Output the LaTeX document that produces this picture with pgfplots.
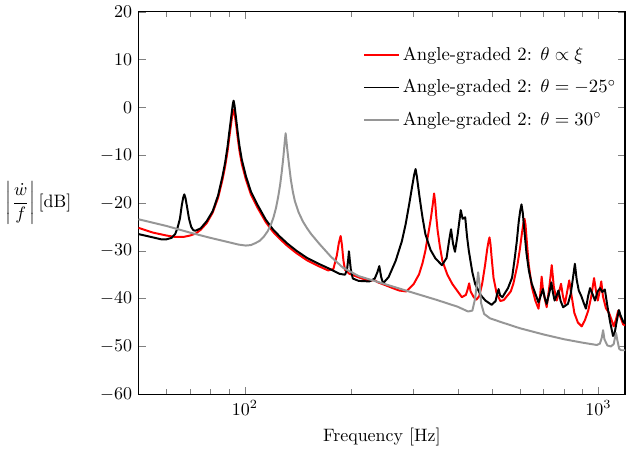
\RequirePackage{fix-cm}
\documentclass[border=0pt]{standalone}
\usepackage{pgfplots}
\pgfplotsset{compat=1.18}
\definecolor{agred}{RGB}{255,0,0}
\definecolor{aggray}{RGB}{150,150,150}
\begin{document}
\begin{tikzpicture}
\begin{semilogxaxis}[
  scale only axis, width=271pt, height=213pt,
  xmin=50, xmax=1190, ymin=-60, ymax=20, ytick={-60,-50,...,20},
  xlabel={Frequency [Hz]},
  ylabel={$\displaystyle\left|\frac{\dot{w}}{f}\right|$\,[dB]},
  every axis y label/.style={at={(axis description cs:-0.125,0.5)}, anchor=east},
  axis line style={line width=0.7pt},
  legend style={at={(axis description cs:0.988,0.927)}, anchor=north east,
    draw=none, fill=none, row sep=5pt, font=\fontsize{10.4}{12.5}\selectfont,
    inner xsep=0pt, nodes={inner xsep=1.5pt}},
  legend image code/.code={\draw[#1, line width=1.1pt] (0cm,0cm) -- (0.68cm,0cm);},
  legend cell align=left,
  every axis plot/.append style={line width=1.1pt, line join=round},
]
% theta prop xi
\addplot[agred] coordinates {
(50,-25.2) (55,-26.2) (60,-26.8) (63.5,-27.1) (67,-27.1) (70,-26.8) (72.6,-26.4)
(75,-25.6) (78,-24.2) (81.1,-22.0) (84,-18.9) (86.5,-15) (88,-12.2) (89.4,-9)
(90.3,-6.4) (91.2,-4.0) (91.9,-2.2) (92.4,-1.1) (92.9,-0.5) (93.4,-1.1) (93.9,-2.2)
(94.6,-4.0) (95.5,-6.5) (96.5,-9) (98,-11.8) (100.6,-15) (104,-18.2)
(108.6,-21) (114.6,-24) (120,-26) (125.5,-27.5) (132,-29) (140,-30.5) (150,-32)
(162.7,-33.3) (172,-34.1) (178,-33.8) (182,-31) (184.5,-28.3) (186.6,-26.9)
(188.2,-28.8) (190,-32) (192,-34)
(197.5,-34.8) (210.7,-35.6) (225,-36.3) (232,-36.1) (238,-36.6) (250,-37.2)
(262,-37.8) (273,-38.3) (286,-38.5) (300,-37.0) (311,-34.9) (318,-32.6) (324,-30)
(331,-26) (336,-23.1) (340,-20.3) (343,-18.0) (345.5,-20) (348,-23) (351,-25.8)
(356,-29) (362,-32.1) (374,-35)
(386,-36.9) (400,-38.5) (411,-39.7) (422,-39.2) (427,-38) (431,-36.8) (435,-38.5)
(444,-39.7) (452,-40.2) (460,-39.5) (469,-36.9) (478,-33) (485,-29.5) (489,-28)
(492,-27.2) (495,-28.5) (499,-31.5) (505,-35.6) (515,-38.8) (528,-40.5) (540,-40.3)
(558,-39.0) (565,-38.5) (575,-36.8) (590,-33) (600,-29.5) (608,-26.2) (614,-24.1)
(618,-23.3) (622,-24.5) (628,-28.5) (635,-32.8)
(648,-37.5) (663,-40.4) (677,-42.1) (685,-39) (691,-35.4) (698,-38.5) (714,-41.8)
(728,-37) (738,-33) (748,-37.5) (762,-40.4) (775,-38.5) (784,-36.9) (794,-39.5)
(804,-41.1) (816,-38.5) (827,-36.2) (838,-39) (855,-43) (875,-45) (897,-45.8)
(916,-44.5) (936,-42.5) (955,-39.5) (972,-35.7) (985,-38.5) (996,-40.4) (1008,-38.5)
(1019,-36.4) (1030,-39.5) (1050,-42) (1072,-43) (1090,-44.5) (1105,-45.8)
(1120,-44.5) (1138,-42.5) (1150,-43.5) (1175,-45.4) (1190,-45.6)
};
\addlegendentry{Angle-graded 2: $\theta \propto \xi$}
% theta = -25
\addplot[black] coordinates {
(50,-26.5) (55,-27.2) (58,-27.6) (60,-27.6) (62,-27.3) (63.5,-26.5) (64.5,-25.2)
(65.5,-23.3) (66.3,-20.5) (66.9,-18.9) (67.4,-18.2) (67.9,-18.9) (68.5,-20.5)
(69.5,-23.3) (70.5,-25) (71.5,-25.7) (72.5,-25.8) (75,-25.3)
(78,-23.8) (81.1,-21.7) (84,-18.4) (86.5,-14.3) (88,-11.4) (89.4,-8)
(90.3,-5.3) (91.2,-2.8) (91.9,-0.8) (92.4,0.6) (92.9,1.4) (93.4,0.6) (93.9,-0.8)
(94.6,-2.8) (95.5,-5.4) (96.5,-8) (98,-10.9) (100.6,-14.3) (104,-17.6)
(108.6,-20.4) (114.6,-23.5) (120,-25.5) (125.5,-27) (132,-28.5) (140,-30) (150,-31.5)
(162.7,-32.8) (174,-33.8) (185,-34.8) (192,-35.0) (194.5,-34) (196,-31.8) (197,-30.1)
(198,-31.8) (199.5,-34) (202,-35.8) (210,-36.3) (225,-36.4) (233,-35.8) (237,-34.5)
(240,-33.2) (243,-35.5) (246,-36.8) (255,-35.5) (267,-32.1) (278,-28) (285,-24.4)
(292,-20) (298,-16.1) (301,-14.2) (304,-12.9) (306.5,-14.4) (309,-16.4) (312,-18.8)
(318,-23) (324,-26.5) (335,-29.8) (346,-31.6)
(361,-33) (372,-31.5) (378,-28) (383,-25.5) (388,-28.5) (393,-30.2) (400,-26.5)
(408,-21.5) (413,-23.3) (420,-23) (425,-27) (430,-30) (440,-34.5) (448,-36.9)
(465,-39.3) (479,-40.4) (499,-41.3) (512,-40.5) (517,-39.0) (522,-38.0) (527,-39.3)
(535,-39.7) (555,-37.8) (570,-35.6) (580,-31.5) (588,-27.9) (595,-24) (601,-21.6)
(606,-20.3) (611,-22) (617,-25.5) (626,-30.5) (636,-34.2) (648,-36.9) (677,-40.8)
(690,-39) (697,-38) (705,-39.8)
(714,-41.1) (728,-38.5) (736,-36.6) (744,-38.8) (752,-40.4) (762,-39.3) (771,-38.3)
(782,-40.5) (795,-41.8) (820,-41.1) (835,-39) (848,-35.5) (858,-32.7) (868,-36)
(880,-38.3) (895,-39.5) (910,-41) (922,-42.1) (935,-39.5) (947,-37.8) (962,-39)
(978,-40.4) (995,-38.5) (1011,-37.8) (1025,-38.6) (1043,-38.1) (1060,-41.5)
(1080,-45) (1100,-47.8) (1110,-47.5) (1125,-45) (1143,-42.4) (1155,-43.5)
(1175,-44.8) (1190,-45.2)
};
\addlegendentry{Angle-graded 2: $\theta = -25^\circ$}
% theta = 30
\addplot[aggray] coordinates {
(50,-23.4) (60,-24.8) (70,-26.2) (80,-27.3) (90,-28.2) (96,-28.7) (100.6,-28.9)
(104,-28.8) (107,-28.4) (110.2,-27.9) (113,-27.1) (116,-25.9) (118.5,-24.5)
(120.5,-23) (122.5,-21) (124.3,-18.6) (125.8,-16.2) (127,-13.8) (128.2,-11.1)
(129,-9) (129.8,-6.8) (130.4,-5.4) (131,-6.8) (131.9,-9) (133.3,-12) (135,-15.3)
(136.8,-17.8) (138.5,-19.6) (142,-22) (146,-23.9) (150,-25.3) (154,-26.5)
(162.7,-28.6) (175,-31.2) (189.2,-33.5)
(210,-35.3) (240,-36.6) (300,-38.8) (350,-40.3) (400,-41.7) (428,-42.7) (440,-42.5)
(448,-40) (453,-37) (457,-34.5) (461,-37) (466,-41) (475,-43.2) (493,-44.1)
(530,-44.9) (600,-46.2) (700,-47.5) (800,-48.5) (900,-49.2) (990,-49.7)
(1010,-49.4) (1022,-48.2) (1031,-46.6) (1040,-48.5) (1060,-49.8) (1085,-50.0)
(1105,-49.5) (1115,-48) (1122,-47.2) (1130,-48.5) (1145,-50.5) (1160,-50.8)
(1190,-50.8)
};
\addlegendentry{Angle-graded 2: $\theta = 30^\circ$}
\end{semilogxaxis}
\path (-76.7pt,-35.6pt) rectangle (271.5pt,218.9pt);
\end{tikzpicture}
\end{document}
